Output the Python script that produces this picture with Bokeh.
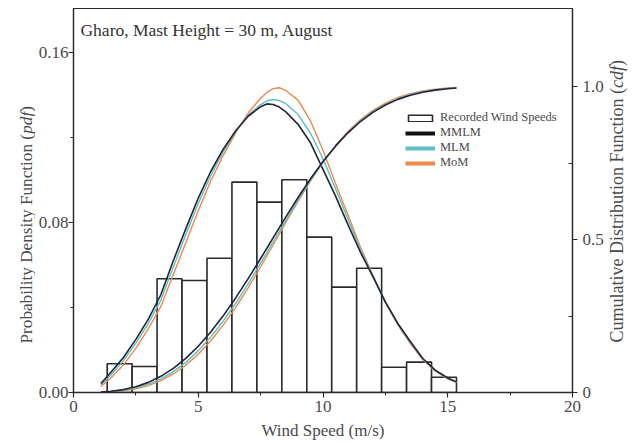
import math

from bokeh.embed import file_html
from bokeh.layouts import row
from bokeh.models import (FixedTicker, Label, Legend, LegendItem, LinearAxis,
                          NumeralTickFormatter, Range1d)
from bokeh.plotting import figure
from bokeh.resources import INLINE

# ---------------------------------------------------------------- data
# Recorded wind speed histogram (bin edges in m/s, normalised frequency)
bin_edges = [1.35, 2.35, 3.35, 4.35, 5.35, 6.35, 7.35, 8.35, 9.35, 10.35,
             11.35, 12.35, 13.35, 14.35, 15.35]
recorded_density = [0.0135, 0.0122, 0.0535, 0.0527, 0.0632, 0.0990, 0.0896,
                    0.1001, 0.0731, 0.0496, 0.0585, 0.0119, 0.0143, 0.0072]

# Wind speeds at which the fitted Weibull curves are tabulated
wind_speed = [1.1, 1.5, 2.0, 2.5, 3.0, 3.5, 4.0, 4.5, 5.0, 5.5, 6.0, 6.5, 7.0,
              7.5, 7.75, 8.0, 8.25, 8.5, 9.0, 9.5, 10.0, 10.5, 11.0, 11.5,
              12.0, 12.5, 13.0, 13.5, 14.0, 14.5, 15.0, 15.35]

# Probability density functions
pdf_mmlm = [0.0042, 0.0095, 0.0165, 0.0250, 0.0345, 0.0460, 0.0620, 0.0770,
            0.0915, 0.1040, 0.1145, 0.1232, 0.1300, 0.1345, 0.1358, 0.1355,
            0.1343, 0.1322, 0.1262, 0.1175, 0.1050, 0.0925, 0.0790, 0.0660,
            0.0545, 0.0425, 0.0325, 0.0240, 0.0160, 0.0105, 0.0068, 0.0050]
pdf_mlm = [0.0035, 0.0082, 0.0150, 0.0232, 0.0325, 0.0435, 0.0590, 0.0742,
           0.0890, 0.1020, 0.1132, 0.1228, 0.1305, 0.1355, 0.1372, 0.1379,
           0.1374, 0.1360, 0.1308, 0.1220, 0.1100, 0.0960, 0.0815, 0.0672,
           0.0550, 0.0428, 0.0322, 0.0235, 0.0158, 0.0103, 0.0066, 0.0048]
pdf_mom = [0.0028, 0.0068, 0.0130, 0.0208, 0.0300, 0.0405, 0.0555, 0.0705,
           0.0855, 0.0995, 0.1115, 0.1222, 0.1315, 0.1385, 0.1412, 0.1430,
           0.1434, 0.1422, 0.1376, 0.1278, 0.1140, 0.0985, 0.0835, 0.0685,
           0.0550, 0.0425, 0.0318, 0.0230, 0.0154, 0.0100, 0.0064, 0.0046]

# Cumulative distribution functions
cdf_mmlm = [0.0015, 0.0039, 0.0095, 0.0189, 0.0331, 0.0528, 0.0788, 0.1115,
            0.1512, 0.1976, 0.2505, 0.3091, 0.3720, 0.4380, 0.4715, 0.5054,
            0.5390, 0.5723, 0.6372, 0.6985, 0.7548, 0.8051, 0.8488, 0.8856,
            0.9157, 0.9396, 0.9580, 0.9717, 0.9815, 0.9883, 0.9928, 0.9951]
cdf_mlm = [0.0010, 0.0028, 0.0072, 0.0150, 0.0272, 0.0448, 0.0683, 0.0985,
           0.1360, 0.1810, 0.2330, 0.2915, 0.3550, 0.4225, 0.4570, 0.4920,
           0.5265, 0.5610, 0.6285, 0.6930, 0.7520, 0.8045, 0.8495, 0.8875,
           0.9180, 0.9420, 0.9605, 0.9740, 0.9835, 0.9898, 0.9940, 0.9960]
cdf_mom = [0.0006, 0.0019, 0.0052, 0.0118, 0.0225, 0.0385, 0.0605, 0.0890,
           0.1250, 0.1690, 0.2200, 0.2780, 0.3420, 0.4110, 0.4465, 0.4820,
           0.5180, 0.5540, 0.6245, 0.6920, 0.7530, 0.8070, 0.8530, 0.8915,
           0.9220, 0.9460, 0.9640, 0.9770, 0.9858, 0.9915, 0.9952, 0.9968]

x_ticks = [0, 5, 10, 15, 20]
pdf_ticks = [0.0, 0.08, 0.16]
cdf_ticks = [0.0, 0.5, 1.0]

# ---------------------------------------------------------------- layout
W, H = 636, 444
LEFT_STRIP, RIGHT_STRIP = 35, 30          # narrow canvases holding the y titles
FL, FR, FT, FB = 73, 574, 8, 392          # plot frame edges (page px)
X_MAX = 20.0
PDF_MAX = 0.1807
CDF_MAX = 1.255

SERIF = "Liberation Serif"
INK = "#2a2a2a"
TXT = "#4a4a4a"
C_MMLM = "#24243c"
C_MLM = "#5cbfc4"
C_MOM = "#f0884a"


def xd(px):
    """page x pixel -> wind speed units"""
    return (px - FL) / (FR - FL) * X_MAX


def yd(py):
    """page y pixel -> pdf units"""
    return (FB - py) / (FB - FT) * PDF_MAX


main_w = W - LEFT_STRIP - RIGHT_STRIP
p = figure(width=main_w, height=H, output_backend="svg", toolbar_location=None,
           title=None, x_range=Range1d(0, X_MAX), y_range=Range1d(0, PDF_MAX),
           min_border_left=FL - LEFT_STRIP,
           min_border_right=(LEFT_STRIP + main_w) - FR,
           min_border_top=FT, min_border_bottom=H - FB)
p.extra_y_ranges = {"cdf": Range1d(0, CDF_MAX)}
p.xgrid.visible = False
p.ygrid.visible = False
p.outline_line_color = INK
p.outline_line_width = 1.2
p.background_fill_color = "white"
p.border_fill_color = "white"


def style_axis(ax, size="17px"):
    ax.axis_line_color = INK
    ax.axis_line_width = 1.3
    ax.major_tick_line_color = INK
    ax.minor_tick_line_color = INK
    ax.major_tick_line_width = 1.2
    ax.minor_tick_line_width = 1.0
    ax.major_label_text_font = SERIF
    ax.major_label_text_font_size = size
    ax.major_label_text_color = TXT


# x axis
xa = p.xaxis[0]
xa.ticker = FixedTicker(ticks=x_ticks, minor_ticks=[2.5, 7.5, 12.5, 17.5])
style_axis(xa)
xa.major_tick_out, xa.major_tick_in = 5, 0
xa.minor_tick_out, xa.minor_tick_in = 3, 0
xa.major_label_standoff = 3
xa.axis_label = "Wind Speed (m/s)"
xa.axis_label_text_font = SERIF
xa.axis_label_text_font_size = "17px"
xa.axis_label_text_font_style = "normal"
xa.axis_label_text_color = TXT
xa.axis_label_standoff = 6

# left pdf axis
ya = p.yaxis[0]
ya.ticker = FixedTicker(ticks=pdf_ticks, minor_ticks=[0.04, 0.12])
ya.formatter = NumeralTickFormatter(format="0.00")
style_axis(ya)
ya.major_tick_out, ya.major_tick_in = 5, 0
ya.minor_tick_out, ya.minor_tick_in = 3, 0
ya.major_label_standoff = 0

# right cdf axis
ra = LinearAxis(y_range_name="cdf",
                ticker=FixedTicker(ticks=cdf_ticks, minor_ticks=[0.25, 0.75]),
                formatter=NumeralTickFormatter(format="0.0"))
style_axis(ra)
ra.major_label_overrides = {0: "0"}
ra.major_tick_out, ra.major_tick_in = 5, 0
ra.minor_tick_out, ra.minor_tick_in = 0, 4
ra.major_label_standoff = 5
p.add_layout(ra, "right")

# ---------------------------------------------------------------- marks
bars = p.quad(left=bin_edges[:-1], right=bin_edges[1:], bottom=0,
              top=recorded_density, fill_color="white", line_color=INK,
              line_width=1.6)

for ys, col, lw in ((pdf_mom, C_MOM, 1.4), (pdf_mlm, C_MLM, 1.4),
                    (pdf_mmlm, C_MMLM, 1.6)):
    p.line(wind_speed, ys, line_color=col, line_width=lw)
for ys, col, lw in ((cdf_mom, C_MOM, 1.4), (cdf_mlm, C_MLM, 1.4),
                    (cdf_mmlm, C_MMLM, 1.6)):
    p.line(wind_speed, ys, line_color=col, line_width=lw, y_range_name="cdf")

# thick swatches for the legend entries (kept outside the visible ranges)
off_x, off_y = [-5, -4], [-1, -1]
sw_mmlm = p.line(off_x, off_y, line_color="#111111", line_width=4)
sw_mlm = p.line(off_x, off_y, line_color=C_MLM, line_width=4)
sw_mom = p.line(off_x, off_y, line_color=C_MOM, line_width=4)

legend = Legend(items=[LegendItem(label="Recorded Wind Speeds", renderers=[bars]),
                       LegendItem(label="MMLM", renderers=[sw_mmlm]),
                       LegendItem(label="MLM", renderers=[sw_mlm]),
                       LegendItem(label="MoM", renderers=[sw_mom])],
                location=(405 - FL, FB - 170), orientation="vertical",
                glyph_width=30, glyph_height=8, label_height=12,
                label_standoff=5, spacing=0, padding=0, margin=0,
                border_line_color=None, background_fill_alpha=0,
                label_text_font=SERIF, label_text_font_size="12.5px",
                label_text_color=TXT)
p.add_layout(legend)

p.add_layout(Label(x=xd(80), y=yd(29), text="Gharo, Mast Height = 30 m, August",
                   text_font=SERIF, text_font_size="17.5px", text_color="#333333",
                   text_baseline="alphabetic", text_align="left"))


# ---------------------------------------------------------------- y titles
def title_strip(width):
    # the row lines the strip frames up with the main frame (top FT, bottom FB)
    f = figure(width=width, height=H, output_backend="svg",
               toolbar_location=None, title=None,
               x_range=Range1d(0, width), y_range=Range1d(H - FB, H - FT),
               x_axis_type=None, y_axis_type=None,
               min_border_left=0, min_border_right=0,
               min_border_top=FT, min_border_bottom=H - FB)
    f.outline_line_color = None
    f.background_fill_color = "white"
    f.border_fill_color = "white"
    return f


def vertical_title(fig, cx, start_py, parts, size):
    """stack rotated text pieces upward, starting at page y start_py"""
    py = start_py
    for txt, style, width_em in parts:
        fig.add_layout(Label(x=cx, y=H - py, text=txt, angle=math.pi / 2,
                             text_font=SERIF, text_font_size=f"{size}px",
                             text_font_style=style, text_color=TXT,
                             text_align="left", text_baseline="middle"))
        py -= width_em * size


left_strip = title_strip(LEFT_STRIP)
right_strip = title_strip(RIGHT_STRIP)

# widths in em of the Times-metric serif face
vertical_title(left_strip, 25.5, 343,
               [("Probability Density Function (", "normal", 12.195),
                ("pdf", "italic", 1.278),
                (")", "normal", 0.333)], 17.2)
vertical_title(right_strip, 616 - (W - RIGHT_STRIP), 342,
               [("Cumulative Distribution Function (", "normal", 14.140),
                ("cdf", "italic", 1.222),
                (")", "normal", 0.333)], 18)

page = row(left_strip, p, right_strip, spacing=0)
open("out.html", "w").write(file_html(page, INLINE))
